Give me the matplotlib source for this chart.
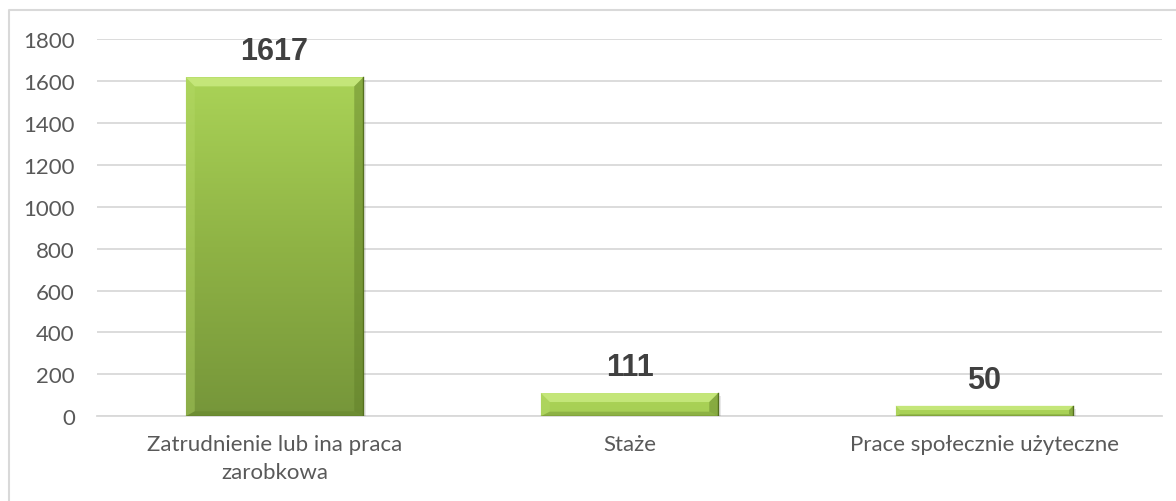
import numpy as np
import matplotlib
matplotlib.use("Agg")
import matplotlib.pyplot as plt
from matplotlib.patches import Polygon
from matplotlib.lines import Line2D
from matplotlib.colors import LinearSegmentedColormap
from matplotlib.transforms import IdentityTransform

plt.rcParams['font.family'] = ['Lato', 'DejaVu Sans']

# data
categories = ["Zatrudnienie lub ina praca\nzarobkowa", "Staże", "Prace społecznie użyteczne"]
values = [1617, 111, 50]
y_ticks = [0, 200, 400, 600, 800, 1000, 1200, 1400, 1600, 1800]

W, H = 1176, 502
fig = plt.figure(figsize=(W / 100, H / 100), dpi=100)
ax = fig.add_axes([97 / W, 84.7 / H, (1162 - 97) / W, 377.3 / H])

x = np.arange(len(categories))
bars = ax.bar(x, values, width=0.5, color='#9dc34c', zorder=3)

ax.set_xlim(-0.5, len(categories) - 0.5)
ax.set_ylim(0, 1800)
ax.set_yticks(y_ticks)
ax.set_xticks(x, categories, linespacing=1.5)
ax.grid(axis='y', color='#d9d9d9', lw=1.3, zorder=0)
ax.set_axisbelow(True)
for s in ['top', 'right', 'left']:
    ax.spines[s].set_visible(False)
ax.spines['bottom'].set_color('#d9d9d9')
ax.spines['bottom'].set_linewidth(1.3)
ax.tick_params(axis='y', length=0, labelsize=16, labelcolor='#595959', pad=16)
ax.tick_params(axis='x', length=0, labelsize=16, labelcolor='#595959', pad=13)

# gradient fill + bevel on each bar
cmap = LinearSegmentedColormap.from_list('grn', ['#76963a', '#8fb345', '#aad357'])
ident = IdentityTransform()
for bar in bars:
    x0, w, h = bar.get_x(), bar.get_width(), bar.get_height()
    (L, B), (R, T) = ax.transData.transform([[x0, 0], [x0 + w, h]])
    hpx = T - B
    # gradient anchored at the bar top: short bars stay light
    grad = np.linspace(max(0.0, 1 - hpx / 340), 1, 256).reshape(-1, 1)
    im = ax.imshow(grad, cmap=cmap, vmin=0, vmax=1, extent=[x0, x0 + w, 0, h],
                   aspect='auto', origin='lower', zorder=3.1)
    im.set_clip_path(bar)

    b = min(9, hpx * 0.4)
    bb = min(5, hpx * 0.2)
    # soft shadow under bar
    ax.add_patch(Polygon([(L + 1, B - 4), (R + 3, B - 4), (R + 3, T - 3), (L + 1, T - 3)],
                         closed=True, transform=ident, color='black', alpha=0.09,
                         lw=0, zorder=2.9))
    top = [(L, T), (R, T), (R - b, T - b), (L + b, T - b)]
    left = [(L, B), (L, T), (L + b, T - b), (L + b, B + bb)]
    right = [(R, T), (R, B), (R - b, B + bb), (R - b, T - b)]
    bottom = [(L, B), (R, B), (R - b, B + bb), (L + b, B + bb)]
    ax.add_patch(Polygon(top, closed=True, transform=ident, color='#c9ea80', alpha=0.85, lw=0, zorder=3.2))
    ax.add_patch(Polygon(left, closed=True, transform=ident, color='#b8dc6a', alpha=0.35, lw=0, zorder=3.2))
    ax.add_patch(Polygon(right, closed=True, transform=ident, color='#5f7d28', alpha=0.45, lw=0, zorder=3.2))
    ax.add_patch(Polygon(bottom, closed=True, transform=ident, color='#5f7d28', alpha=0.35, lw=0, zorder=3.2))
    ax.add_line(Line2D([R, R, L], [T, B, B], transform=ident, color='#55701f', lw=1, zorder=3.3))

for xi, v in zip(x, values):
    ax.annotate(str(v), xy=(xi, v), xytext=(0, 13), textcoords='offset points',
                ha='center', va='baseline', fontsize=22, fontweight='bold',
                family='Liberation Sans', color='#404040', zorder=5)

# chart border (only top and left visible in the crop)
fig.add_artist(Line2D([9 / W, 9 / W, 1], [0, 1 - 11 / H, 1 - 11 / H],
                      transform=fig.transFigure, color='#d9d9d9', lw=1.5))

fig.savefig('out.png', dpi=100)
